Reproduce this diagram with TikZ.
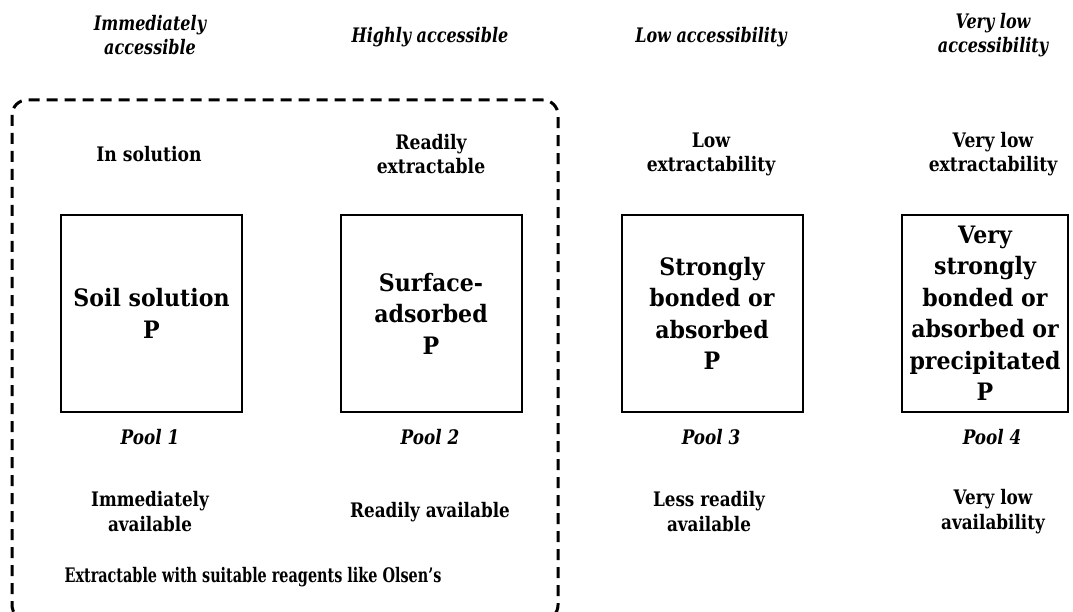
\documentclass[tikz,border=0pt]{standalone}
\usepackage{fontspec}
\setmainfont{DejaVu Serif}[FakeStretch=0.92]
\newfontfamily\lblf{DejaVu Serif}[FakeStretch=0.86]
\newfontfamily\hdrf{DejaVu Serif}[FakeStretch=0.80]
\newfontfamily\condf{DejaVu Serif}[FakeStretch=0.84]
\newfontfamily\exf{DejaVu Serif}[FakeStretch=0.72]
\tikzset{
  hdr/.style={font=\hdrf\bfseries\itshape\fontsize{20}{24}\selectfont, align=center, inner sep=0pt},
  lbl/.style={font=\lblf\bfseries\fontsize{20}{24}\selectfont, align=center, inner sep=0pt},
  poollbl/.style={font=\condf\bfseries\itshape\fontsize{20}{24}\selectfont, inner sep=0pt},
  avail/.style={font=\condf\bfseries\fontsize{20}{25}\selectfont, align=center, inner sep=0pt},
  extr/.style={font=\exf\bfseries\fontsize{20}{24}\selectfont, inner sep=0pt},
  poolbox/.style={draw, line width=2pt, minimum width=181pt, minimum height=197pt, inner sep=0pt, align=center, font=\bfseries\fontsize{24}{31.5}\selectfont},
  groupbox/.style={draw, dash pattern=on 11pt off 7pt, line width=3pt, rounded corners=15pt}
}
\begin{document}
\begin{tikzpicture}[x=1pt,y=-1pt]
\useasboundingbox (0,0) rectangle (1073,612);
% headers
\node[hdr] (h1) at (150,35) {Immediately\\accessible};
\node[hdr] (h2) at (430,37) {Highly accessible};
\node[hdr] (h3) at (711,37) {Low accessibility};
\node[hdr] (h4) at (993,35) {Very low\\accessibility};
% dashed group
\draw[groupbox] (12,100) rectangle (558,620);
% extractability
\node[lbl] (e1) at (149,154) {In solution};
\node[lbl] (e2) at (431,154) {Readily\\extractable};
\node[lbl] (e3) at (711,154) {Low\\extractability};
\node[lbl] (e4) at (993,154) {Very low\\extractability};
% pool boxes
\node[poolbox] (b1) at (151.5,313.5) {Soil solution\\P};
\node[poolbox] (b2) at (431,313.5) {Surface-\\adsorbed\\P};
\node[poolbox] (b3) at (712,313.5) {Strongly\\bonded or\\absorbed\\P};
\node[poolbox, minimum width=166pt] (b4) at (985,313.5) {Very\\strongly\\bonded or\\absorbed or\\precipitated\\P};
% pool labels
\node[poollbl] (p1) at (150,437) {Pool 1};
\node[poollbl] (p2) at (430,437) {Pool 2};
\node[poollbl] (p3) at (711,437) {Pool 3};
\node[poollbl] (p4) at (992,437) {Pool 4};
% availability
\node[avail] (a1) at (150,512) {Immediately\\available};
\node[avail] (a2) at (430,512) {Readily available};
\node[avail] (a3) at (709,512) {Less readily\\available};
\node[avail] (a4) at (993,512) {Very low\\availability};
\node[extr] (ex) at (253,577) {Extractable with suitable reagents like Olsen’s};
\end{tikzpicture}
\end{document}
